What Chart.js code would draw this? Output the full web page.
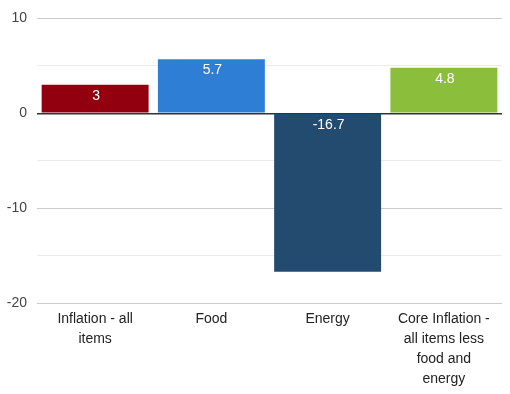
<!DOCTYPE html>
<html>
<head>
<meta charset="utf-8">
<script src="https://cdn.jsdelivr.net/npm/chart.js@4/dist/chart.umd.min.js"></script>
<style>
  html, body { margin: 0; padding: 0; background: #fff; }
  #wrap { width: 510px; height: 394px; }
</style>
</head>
<body>
<div id="wrap"><canvas id="myChart" width="510" height="394"></canvas></div>
<script>
const categories = [
    ['Inflation - all', 'items'],
    ['Food'],
    ['Energy'],
    ['Core Inflation -', 'all items less', 'food and', 'energy']
];
const values = [3, 5.7, -16.7, 4.8];
const barColors = ['#920010', '#2f7ed6', '#234a6f', '#8bbe3b'];
const yMin = -20;
const yMax = 10;
const yStep = 5;

// draws the value inside the top of each bar
const valueLabels = {
    id: 'valueLabels',
    afterDatasetsDraw(chart) {
        const ctx = chart.ctx;
        const meta = chart.getDatasetMeta(0);
        ctx.save();
        ctx.fillStyle = '#ffffff';
        ctx.font = '14px "Liberation Sans", Arial, sans-serif';
        ctx.textAlign = 'center';
        ctx.textBaseline = 'middle';
        meta.data.forEach((bar, i) => {
            const top = Math.min(bar.y, bar.base);
            ctx.fillText(String(values[i]), bar.x + 1, top + 11);
        });
        ctx.restore();
    }
};

new Chart(document.getElementById('myChart'), {
    type: 'bar',
    data: {
        labels: categories,
        datasets: [{
            data: values,
            backgroundColor: barColors,
            borderWidth: 0,
            categoryPercentage: 0.92,
            barPercentage: 1
        }]
    },
    plugins: [valueLabels],
    options: {
        responsive: false,
        animation: false,
        layout: { padding: { top: 10, right: 8, left: 1, bottom: 0 } },
        plugins: {
            legend: { display: false },
            tooltip: { enabled: false }
        },
        scales: {
            x: {
                grid: { display: false },
                border: { display: false },
                ticks: {
                    color: '#222',
                    font: { family: '"Liberation Sans", Arial, sans-serif', size: 14, lineHeight: 1.43 },
                    padding: -2,
                    maxRotation: 0,
                    autoSkip: false
                },
                afterFit(scale) { scale.height = 91; }
            },
            y: {
                min: yMin,
                max: yMax,
                border: { display: false },
                grid: {
                    drawTicks: false,
                    color: (c) => c.tick.value === 0 ? '#333333' : (c.tick.value % 10 === 0 ? '#cccccc' : '#ebebeb'),
                    lineWidth: (c) => c.tick.value === 0 ? 1.5 : 1
                },
                ticks: {
                    stepSize: yStep,
                    color: '#444',
                    padding: 10,
                    font: { family: '"Liberation Sans", Arial, sans-serif', size: 14 },
                    callback: (v) => v % 10 === 0 ? v : ''
                },
                afterFit(scale) { scale.width = 36; }
            }
        }
    }
});
</script>
</body>
</html>
